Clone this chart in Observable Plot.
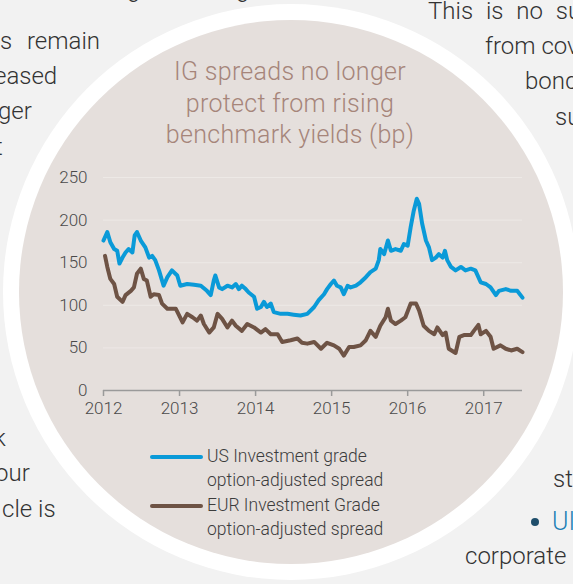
<!DOCTYPE html>
<html>
<head>
<meta charset="utf-8">
<script src="https://cdn.jsdelivr.net/npm/d3@7"></script>
<script src="https://cdn.jsdelivr.net/npm/@observablehq/plot@0.6"></script>
<style>
  html, body { margin: 0; padding: 0; background: #f2f2f2; }
  #page { position: relative; width: 573px; height: 584px; overflow: hidden; background: #f2f2f2;
          font-family: Roboto, "Liberation Sans", sans-serif; font-weight: 300; }
  .txt { position: absolute; font-size: 24px; color: #333; white-space: nowrap; line-height: 1; }
  #ring { position: absolute; left: 3px; top: 4px; width: 576px; height: 576px; border-radius: 50%; background: #ffffff; }
  #disc { position: absolute; left: 19px; top: 20px; width: 544px; height: 544px; border-radius: 50%; background: #e5dfdc; }
  #title { position: absolute; left: 90px; width: 400px; top: 56px; text-align: center; font-size: 25px;
           letter-spacing: 0.3px; line-height: 31.5px; color: #a6857a; }
  #chart { position: absolute; left: 0; top: 160px; }
  .leg { position: absolute; left: 150px; width: 53px; height: 4px; border-radius: 2px; }
  .legt { position: absolute; left: 207px; font-size: 17.5px; line-height: 23.5px; color: #3c3c3c; white-space: nowrap; }
  #bullet { position: absolute; left: 531px; top: 518px; width: 8px; height: 8px; border-radius: 50%; background: #1f4e6b; }
</style>
</head>
<body>
<div id="page">
  <div class="txt" style="left:127px; top:-23px;">g</div>
  <div class="txt" style="left:236px; top:-23px;">g</div>
  <div class="txt" style="left:0px; top:29px;">s</div>
  <div class="txt" style="left:27px; top:29px;">remain</div>
  <div class="txt" style="left:-6px; top:64px;">eased</div>
  <div class="txt" style="left:-2px; top:99px;">ger</div>
  <div class="txt" style="left:-5px; top:135px;">t</div>
  <div class="txt" style="left:-6px; top:426px;">k</div>
  <div class="txt" style="left:-5px; top:461px;">our</div>
  <div class="txt" style="left:2px; top:497px;">cle is</div>
  <div class="txt" style="left:428px; top:-1px; word-spacing:7px;">This is no sur</div>
  <div class="txt" style="left:485px; top:34px;">from cov</div>
  <div class="txt" style="left:525px; top:69px;">bond</div>
  <div class="txt" style="left:555px; top:105px;">su</div>
  <div class="txt" style="left:553px; top:467px;">st</div>
  <div id="bullet"></div>
  <div class="txt" style="left:552px; top:509px; color:#1c7fb6; font-size:25px;">UI</div>
  <div class="txt" style="left:465px; top:544px;">corporate</div>
  <div id="ring"></div>
  <div id="disc"></div>
  <div id="title">IG spreads no longer<br>protect from rising<br>benchmark yields (bp)</div>
  <div id="chart"></div>
  <div class="leg" style="top:455px; background:#0a9ad8;"></div>
  <div class="legt" style="top:445px;">US Investment grade<br>option-adjusted spread</div>
  <div class="leg" style="top:504px; background:#6e5345;"></div>
  <div class="legt" style="top:494px;">EUR Investment Grade<br>option-adjusted spread</div>
</div>
<script>
const usDates = [2012.00, 2012.05, 2012.09, 2012.14, 2012.18, 2012.21, 2012.25, 2012.29, 2012.33, 2012.38, 2012.41, 2012.44, 2012.49, 2012.55, 2012.60, 2012.64, 2012.68, 2012.73, 2012.79, 2012.84, 2012.90, 2012.97, 2013.01, 2013.10, 2013.19, 2013.28, 2013.36, 2013.41, 2013.45, 2013.47, 2013.52, 2013.56, 2013.63, 2013.69, 2013.74, 2013.78, 2013.82, 2013.87, 2013.91, 2013.98, 2014.02, 2014.07, 2014.11, 2014.15, 2014.20, 2014.24, 2014.33, 2014.42, 2014.50, 2014.59, 2014.68, 2014.77, 2014.83, 2014.90, 2014.94, 2014.99, 2015.03, 2015.07, 2015.12, 2015.16, 2015.21, 2015.25, 2015.32, 2015.38, 2015.45, 2015.51, 2015.58, 2015.62, 2015.64, 2015.69, 2015.74, 2015.78, 2015.84, 2015.91, 2015.95, 2016.00, 2016.04, 2016.08, 2016.12, 2016.15, 2016.19, 2016.24, 2016.28, 2016.32, 2016.37, 2016.41, 2016.46, 2016.49, 2016.52, 2016.57, 2016.63, 2016.70, 2016.76, 2016.83, 2016.89, 2016.96, 2017.03, 2017.09, 2017.16, 2017.20, 2017.29, 2017.36, 2017.44, 2017.51];
const usValues = [176, 186, 174, 166, 164, 149, 156, 162, 166, 162, 182, 186, 176, 168, 156, 158, 153, 141, 123, 133, 141, 135, 123, 125, 124, 123, 117, 112, 129, 135, 121, 119, 123, 121, 125, 119, 123, 119, 115, 110, 96, 98, 104, 98, 102, 92, 90, 90, 89, 88, 90, 98, 106, 113, 119, 125, 129, 123, 121, 113, 123, 121, 123, 127, 133, 139, 143, 153, 166, 160, 176, 164, 166, 164, 172, 170, 192, 211, 225, 219, 196, 176, 168, 153, 156, 160, 156, 164, 153, 145, 141, 145, 141, 143, 141, 127, 125, 121, 112, 117, 119, 117, 117, 109];

const eurDates = [2012.02, 2012.05, 2012.09, 2012.14, 2012.18, 2012.25, 2012.29, 2012.36, 2012.40, 2012.44, 2012.49, 2012.53, 2012.57, 2012.62, 2012.66, 2012.73, 2012.77, 2012.84, 2012.95, 2013.04, 2013.10, 2013.17, 2013.23, 2013.28, 2013.32, 2013.39, 2013.45, 2013.50, 2013.56, 2013.63, 2013.69, 2013.74, 2013.82, 2013.89, 2013.98, 2014.07, 2014.13, 2014.20, 2014.29, 2014.35, 2014.46, 2014.55, 2014.61, 2014.68, 2014.77, 2014.86, 2014.94, 2015.03, 2015.10, 2015.16, 2015.23, 2015.29, 2015.38, 2015.45, 2015.51, 2015.58, 2015.64, 2015.71, 2015.74, 2015.78, 2015.84, 2015.91, 2015.97, 2016.04, 2016.11, 2016.15, 2016.21, 2016.28, 2016.35, 2016.39, 2016.46, 2016.50, 2016.54, 2016.63, 2016.68, 2016.74, 2016.83, 2016.87, 2016.93, 2016.96, 2017.03, 2017.09, 2017.13, 2017.22, 2017.29, 2017.36, 2017.44, 2017.51];
const eurValues = [158, 145, 131, 125, 110, 104, 112, 117, 121, 137, 143, 131, 129, 110, 113, 112, 102, 96, 96, 80, 90, 86, 82, 88, 78, 68, 74, 90, 84, 74, 82, 76, 70, 78, 74, 68, 72, 66, 66, 57, 59, 61, 56, 55, 57, 49, 56, 53, 49, 41, 51, 51, 53, 59, 70, 63, 76, 86, 96, 82, 78, 82, 86, 102, 102, 94, 76, 70, 66, 74, 65, 68, 49, 44, 63, 65, 65, 70, 77, 66, 70, 63, 49, 53, 49, 47, 49, 45];

const xTicks = [2012, 2013, 2014, 2015, 2016, 2017];
const xTickLabels = ["2012", "2013", "2014", "2015", "2016", "2017"];
const yTicks = [0, 50, 100, 150, 200, 250];

const us = usDates.map((d, i) => ({date: d, value: usValues[i]}));
const eur = eurDates.map((d, i) => ({date: d, value: eurValues[i]}));

const chart = Plot.plot({
  width: 573,
  height: 265,
  marginLeft: 103,
  marginRight: 51,
  marginTop: 17,
  marginBottom: 35,
  style: {background: "transparent", fontFamily: "Roboto, 'Liberation Sans', sans-serif", fontWeight: 300, fontSize: "17px", color: "#4a4a4a", overflow: "visible"},
  x: {domain: [2012, 2017.51], label: null},
  y: {domain: [0, 250], label: null},
  marks: [
    Plot.gridY(yTicks.filter(d => d > 0), {stroke: "#ede9e6", strokeOpacity: 1, strokeWidth: 1}),
    Plot.axisY(yTicks, {tickSize: 0, tickPadding: 16, fill: "#4a4a4a", label: null}),
    Plot.ruleY([0], {stroke: "#9a9a9a", strokeWidth: 1.6}),
    Plot.axisX(xTicks, {tickSize: 6, tickPadding: 5, stroke: "#9a9a9a", strokeWidth: 1.5, fill: "#4a4a4a", tickFormat: (d, i) => xTickLabels[i], label: null}),
    Plot.lineY(eur, {x: "date", y: "value", stroke: "#6e5345", strokeWidth: 4, strokeLinejoin: "round", strokeLinecap: "round"}),
    Plot.lineY(us, {x: "date", y: "value", stroke: "#0a9ad8", strokeWidth: 4, strokeLinejoin: "round", strokeLinecap: "round"})
  ]
});
document.getElementById("chart").appendChild(chart);
</script>
</body>
</html>
